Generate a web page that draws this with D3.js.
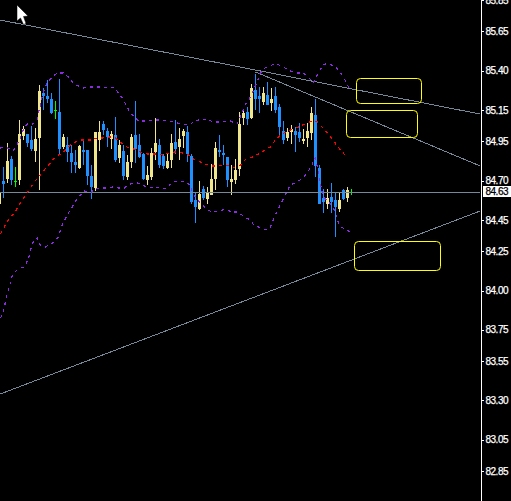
<!DOCTYPE html>
<html><head><meta charset="utf-8">
<style>html,body{margin:0;padding:0;background:#000}svg{display:block}</style>
<script src="https://cdn.jsdelivr.net/npm/d3@7"></script></head><body>
<script>
const priceTicks=[85.85,85.65,85.40,85.15,84.95,84.70,84.45,84.25,84.00,83.75,83.55,83.30,83.05,82.85];
const lastPrice=84.625, lastLabel="84.63";
// bars numbered from -1
const opens=[84.551,84.698,84.711,84.838,84.696,84.704,84.984,84.997,84.959,84.889,84.972,85.258,85.239,85.220,85.150,85.137,84.914,84.927,84.876,84.819,84.781,84.895,84.895,84.730,84.653,84.959,85.061,85.016,84.965,84.991,84.844,84.889,84.723,84.819,84.991,84.927,84.870,84.704,84.723,84.883,84.927,84.857,84.781,84.832,84.946,84.914,84.984,85.010,84.857,84.577,84.520,84.647,84.583,84.609,84.711,84.895,84.876,84.851,84.691,84.704,84.774,85.099,85.137,85.099,85.277,85.239,85.201,85.246,85.195,85.239,85.169,85.016,84.972,85.010,85.016,85.010,84.953,84.972,85.004,85.118,84.781,84.590,84.551,84.596,84.577,84.520,84.640,84.590,84.628];
const highs=[84.640,84.790,84.938,84.857,84.785,85.086,85.048,84.997,85.048,85.035,85.309,85.290,85.341,85.258,85.207,85.347,84.997,84.978,84.927,84.895,84.927,84.959,84.895,84.800,85.010,85.080,85.080,85.035,85.016,85.105,84.959,84.925,84.863,84.997,85.207,84.997,84.876,84.793,84.908,85.099,84.965,84.870,84.870,84.997,85.086,85.035,85.029,85.048,84.870,84.628,84.698,84.666,84.660,84.806,84.946,84.991,84.927,84.851,84.800,84.838,85.137,85.150,85.169,85.316,85.379,85.297,85.297,85.328,85.290,85.297,85.188,85.080,85.035,85.055,85.042,85.067,85.029,85.067,85.169,85.220,84.800,84.647,84.647,84.685,84.628,84.628,84.647,84.660,84.647];
const lows=[84.551,84.592,84.683,84.672,84.660,84.672,84.959,84.912,84.889,84.819,84.640,85.150,85.193,85.125,85.093,84.870,84.902,84.819,84.749,84.749,84.774,84.800,84.672,84.583,84.634,84.889,84.991,84.912,84.902,84.819,84.812,84.704,84.704,84.781,84.812,84.844,84.704,84.672,84.704,84.832,84.781,84.774,84.774,84.781,84.870,84.832,84.908,84.819,84.551,84.430,84.513,84.577,84.551,84.609,84.640,84.851,84.800,84.660,84.609,84.679,84.730,85.055,85.055,85.093,85.150,85.131,85.182,85.182,85.144,85.131,84.984,84.933,84.953,84.933,84.883,84.946,84.933,84.914,84.959,84.723,84.551,84.494,84.520,84.494,84.341,84.500,84.577,84.564,84.609];
const closes=[84.628,84.679,84.825,84.704,84.696,84.997,85.029,84.940,84.900,84.965,85.271,85.239,85.220,85.131,85.150,84.902,84.978,84.883,84.819,84.800,84.921,84.883,84.730,84.660,85.010,85.010,85.023,84.978,84.997,84.832,84.927,84.730,84.819,84.978,84.902,84.851,84.711,84.736,84.876,84.940,84.800,84.793,84.825,84.940,84.902,84.965,85.016,84.870,84.564,84.532,84.615,84.590,84.628,84.711,84.908,84.883,84.863,84.704,84.711,84.768,85.061,85.131,85.093,85.290,85.220,85.220,85.258,85.182,85.220,85.150,85.042,84.959,85.010,85.029,84.991,84.972,84.965,85.016,85.131,84.793,84.551,84.564,84.590,84.564,84.532,84.577,84.583,84.640,84.628];

const upperBars=[-0.8,0.7,2.2,3.2,3.7,4.4,4.9,5.9,7.4,8.4,8.9,9.9,10.9,12.2,13.4,14.9,16.2,17.4,18.7,19.9,21.7,24.2,27.9,28.7,29.9,30.9,31.7,32.9,33.7,35.4,37.9,39.9,42.4,44.7,46.7,47.4,48.7,51.2,52.2,53.7,56.7,58.4,59.4,60.4,61.2,62.2,63.4,64.2,65.4,67.2,68.4,69.9,71.7,73.4,74.9,76.2,77.4,78.7,79.9,81.2,82.9,84.2,85.4,86.7];
const upperBand=[84.908,84.914,84.889,84.914,84.946,84.985,85.023,85.061,85.061,85.086,85.150,85.258,85.322,85.360,85.386,85.386,85.360,85.322,85.303,85.290,85.297,85.297,85.290,85.258,85.220,85.169,85.131,85.099,85.080,85.080,85.086,85.086,85.074,85.061,85.055,85.074,85.086,85.093,85.074,85.074,85.080,85.061,85.118,85.182,85.207,85.258,85.328,85.386,85.418,85.437,85.443,85.424,85.398,85.386,85.386,85.360,85.322,85.386,85.437,85.449,85.424,85.392,85.341,85.271];
const midBars=[-0.8,0,0.7,1.7,2.9,3.9,4.9,5.9,6.9,7.9,9.2,10.4,11.7,12.9,14.7,16.2,17.4,19.2,20.7,22.2,23.4,24.9,26.7,27.9,29.2,30.9,32.4,34.2,35.9,37.2,38.7,39.9,41.7,42.9,44.7,46.2,47.4,49.2,50.4,52.2,53.4,54.9,56.7,57.9,59.2,60.9,62.4,64.2,66.7,68.4,69.7,70.9,72.4,73.7,75.4,77.2,78.4,79.9,81.2,82.4,83.4,84.7,85.9];
const midBand=[84.360,84.392,84.430,84.469,84.500,84.545,84.583,84.621,84.660,84.698,84.736,84.774,84.812,84.851,84.876,84.914,84.940,84.959,84.959,84.959,84.972,84.972,84.978,84.972,84.946,84.914,84.902,84.883,84.870,84.870,84.870,84.863,84.876,84.883,84.876,84.863,84.838,84.819,84.806,84.793,84.793,84.800,84.793,84.781,84.800,84.844,84.851,84.876,84.914,84.972,84.997,85.016,85.029,85.042,85.061,85.080,85.074,85.035,84.997,84.959,84.921,84.883,84.844];
const lowerBars=[-0.8,-0.3,0.2,0.7,1.2,1.7,1.9,2.7,3.9,5.4,6.2,6.9,7.4,8.4,9.2,10.4,12.2,13.7,14.7,15.9,17.2,17.9,19.2,20.2,21.7,22.9,24.2,25.9,27.4,28.7,30.2,31.7,33.4,34.9,36.2,37.4,39.2,40.9,41.9,43.4,45.9,46.7,47.2,49.2,50.9,52.4,54.2,55.4,57.2,58.7,59.9,61.2,62.4,63.7,65.4,66.7,67.9,69.2,70.4,71.7,73.4,74.9,75.9,76.9,77.9,78.7,79.2,79.9,80.9,82.4,83.4,83.9,85.2,86.7];
const lowerBand=[83.825,83.844,83.889,83.959,84.004,84.048,84.080,84.118,84.137,84.156,84.201,84.271,84.309,84.335,84.290,84.277,84.303,84.341,84.418,84.481,84.532,84.564,84.609,84.634,84.621,84.647,84.653,84.653,84.660,84.653,84.653,84.679,84.685,84.672,84.653,84.660,84.653,84.647,84.685,84.698,84.691,84.666,84.621,84.558,84.513,84.500,84.507,84.519,84.500,84.500,84.475,84.456,84.424,84.405,84.386,84.405,84.481,84.545,84.609,84.672,84.691,84.717,84.749,84.787,84.844,84.768,84.685,84.596,84.577,84.532,84.462,84.418,84.392,84.373];

const trendLines=[[-0.8,85.723,119.2,85.124],[63,85.392,119.2,84.793],[-0.8,83.341,119.2,84.507]];
const noteBoxes=[[88.0,104.2,85.351,85.192],[85.6,103.3,85.153,84.981],[87.6,109.2,84.313,84.128]];

const W=511,H=501,axisX=480;
const x=d3.scaleLinear().domain([0,119.125]).range([3.5,480]);
const y=d3.scaleLinear().domain([85.8506,82.6595]).range([0,501]);
const YELLOW="#f0e68c",BLUE="#1e90ff",GREEN="#00ff00",GREY="#778899";

const svg=d3.select("body").append("svg").attr("width",W).attr("height",H).style("background","#000");
svg.append("clipPath").attr("id","plot").append("rect").attr("width",axisX).attr("height",H);
const plot=svg.append("g").attr("clip-path","url(#plot)");

const bars=opens.map((o,i)=>({k:i-1,o,h:highs[i],l:lows[i],c:closes[i]}));
const col=d=>d.c>d.o?YELLOW:d.c<d.o?BLUE:GREEN;
const g=plot.append("g").attr("shape-rendering","crispEdges");
g.selectAll("rect.w").data(bars).join("rect").attr("class","w")
 .attr("x",d=>x(d.k)-.5).attr("width",1)
 .attr("y",d=>Math.round(y(d.h))).attr("height",d=>Math.max(1,Math.round(y(d.l))-Math.round(y(d.h))))
 .attr("fill",col);
g.selectAll("rect.b").data(bars).join("rect").attr("class","b")
 .attr("x",d=>x(d.k)-1.5).attr("width",3)
 .attr("y",d=>Math.round(y(Math.max(d.o,d.c)))).attr("height",d=>Math.max(1,Math.round(y(Math.min(d.o,d.c)))-Math.round(y(Math.max(d.o,d.c)))))
 .attr("fill",col);

plot.selectAll("line.t").data(trendLines).join("line").attr("class","t")
 .attr("x1",d=>x(d[0])).attr("y1",d=>y(d[1])).attr("x2",d=>x(d[2])).attr("y2",d=>y(d[3]))
 .attr("stroke",GREY).attr("stroke-width",1).attr("shape-rendering","crispEdges");
plot.append("line").attr("x1",0).attr("x2",axisX).attr("y1",Math.floor(y(lastPrice))+.5).attr("y2",Math.floor(y(lastPrice))+.5)
 .attr("stroke",GREY).attr("shape-rendering","crispEdges");

const line=d3.line().x(d=>x(d[0])).y(d=>y(d[1]));
[[upperBars,upperBand,"#8a2be2"],[midBars,midBand,"#ff0000"],[lowerBars,lowerBand,"#8a2be2"]].forEach(([b,v,c])=>{
  plot.append("path").attr("d",line(b.map((k,i)=>[k,v[i]]))).attr("fill","none").attr("stroke",c)
   .attr("stroke-width",1.2).attr("stroke-dasharray","3 4").attr("shape-rendering","crispEdges");
});

svg.selectAll("rect.n").data(noteBoxes).join("rect").attr("class","n")
 .attr("x",d=>Math.round(x(d[0]))+.5).attr("width",d=>Math.round(x(d[1])-x(d[0])))
 .attr("y",d=>Math.round(y(d[2]))+.5).attr("height",d=>Math.round(y(d[3])-y(d[2])))
 .attr("rx",4).attr("fill","none").attr("stroke","#ffff00").attr("stroke-width",1);

const axis=d3.axisRight(y).tickValues(priceTicks).tickFormat(d3.format(".2f")).tickSize(3).tickPadding(2);
const ag=svg.append("g").attr("transform",`translate(${axisX+.5},0)`).attr("color","#fff").call(axis);
ag.selectAll(".domain,line").attr("stroke","#fff").attr("shape-rendering","crispEdges");
ag.selectAll("text").attr("fill","#fff").attr("font-family","'Liberation Sans',sans-serif").attr("font-size",10).attr("letter-spacing","-0.5").attr("stroke","#fff").attr("stroke-width",.25);

svg.append("rect").attr("x",483).attr("y",186).attr("width",28).attr("height",11).attr("fill","#fff");
svg.append("text").attr("x",485.5).attr("y",195).attr("fill","#000").attr("font-family","'Liberation Sans',sans-serif").attr("font-size",10).attr("letter-spacing","-0.5").attr("stroke","#000").attr("stroke-width",.25).text(lastLabel);

// mouse pointer captured in the screenshot
svg.append("path").attr("d","M17 5 L17 21 L20.5 18 L23.5 24.5 L26 23.5 L23.5 16.5 L28 16 Z").attr("fill","#fff").attr("stroke","#000").attr("stroke-width",.5);
</script></body></html>
